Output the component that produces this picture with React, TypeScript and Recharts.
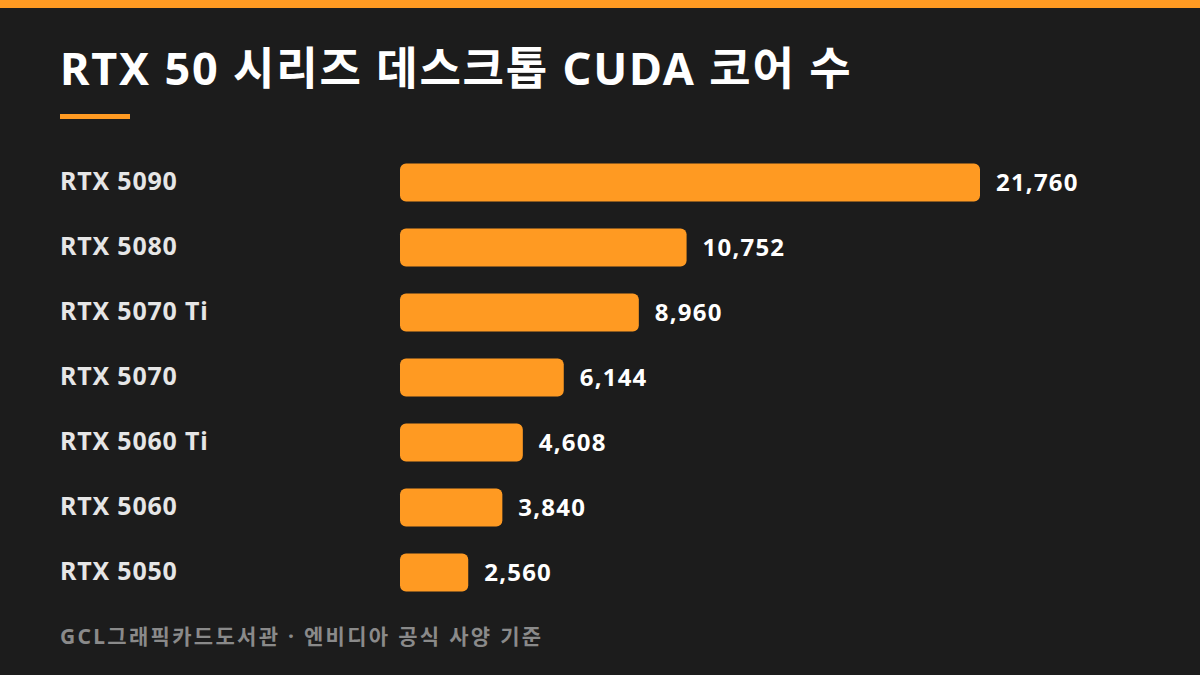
import { Bar, BarChart, LabelList, XAxis, YAxis } from "recharts";

const GPUS = ["RTX 5090", "RTX 5080", "RTX 5070 Ti", "RTX 5070", "RTX 5060 Ti", "RTX 5060", "RTX 5050"];
const CUDA_CORES = [21760, 10752, 8960, 6144, 4608, 3840, 2560];

const ORANGE = "#ff9a22";
const BG = "#1c1c1c";
const FONT = "'Noto Sans', 'Noto Sans CJK KR', sans-serif";

const chartData = GPUS.map((name, i) => ({ name, cores: CUDA_CORES[i] }));

function GpuTick(props: any) {
  const { y, payload } = props;
  return (
    <text x={60} y={y} dy={8} textAnchor="start" fill="#e6e6e6" fontSize={25} fontWeight={700} fontFamily={FONT} letterSpacing={0.8}>
      {payload.value}
    </text>
  );
}

export default function App() {
  return (
    <div style={{ position: "absolute", left: 0, top: 0, width: 1200, height: 675, background: BG, overflow: "hidden", fontFamily: FONT }}>
      <div style={{ position: "absolute", left: 0, top: 0, width: 1200, height: 8, background: ORANGE }} />
      <div style={{ position: "absolute", left: 60, top: 38, fontSize: 45, fontWeight: 700, color: "#ffffff", lineHeight: "60px", whiteSpace: "nowrap", letterSpacing: 1.8 }}>
        RTX 50 시리즈 데스크톱 CUDA 코어 수
      </div>
      <div style={{ position: "absolute", left: 60, top: 114, width: 70, height: 5, background: ORANGE }} />
      <div style={{ position: "absolute", left: 0, top: 0 }}>
        <BarChart
          width={1200}
          height={675}
          data={chartData}
          layout="vertical"
          margin={{ top: 149.5, right: 220, bottom: 70.5, left: 0 }}
        >
          <XAxis type="number" domain={[0, "dataMax"]} hide />
          <YAxis type="category" dataKey="name" width={400} axisLine={false} tickLine={false} tick={<GpuTick />} />
          <Bar dataKey="cores" fill={ORANGE} barSize={38} radius={6} isAnimationActive={false}>
            <LabelList
              dataKey="cores"
              position="right"
              offset={16}
              fill="#ffffff"
              fontSize={24}
              fontWeight={700}
              fontFamily={FONT}
              letterSpacing={1.2}
              formatter={(v: any) => Number(v).toLocaleString("en-US")}
            />
          </Bar>
        </BarChart>
      </div>
      <div style={{ position: "absolute", left: 60, top: 620, fontSize: 21, fontWeight: 700, color: "#8a8a8a", lineHeight: "32px", whiteSpace: "nowrap", letterSpacing: 2.3 }}>
        GCL그래픽카드도서관 · 엔비디아 공식 사양 기준
      </div>
    </div>
  );
}
